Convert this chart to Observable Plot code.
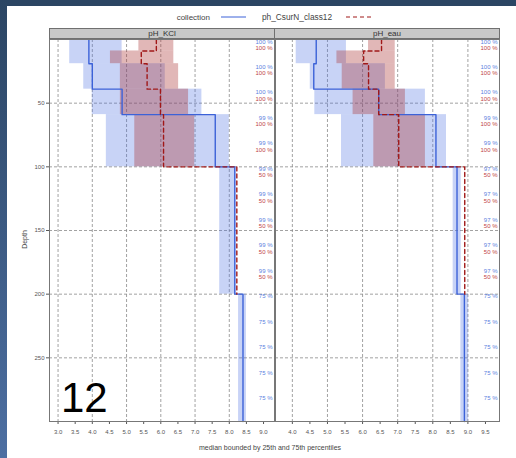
<!DOCTYPE html>
<html><head><meta charset="utf-8">
<script src="https://cdn.jsdelivr.net/npm/d3@7"></script>
<script src="https://cdn.jsdelivr.net/npm/@observablehq/plot@0.6"></script>
<style>
body{margin:0;width:516px;height:458px;position:relative;overflow:hidden;background:#fff;font-family:"Liberation Sans",Arial,sans-serif;}
.abs{position:absolute;}
.strip{position:absolute;top:28px;height:11px;background:#c8c8c8;border:1px solid #707070;box-sizing:border-box;font-size:8px;line-height:10px;text-align:center;color:#333;}
</style></head><body>
<div class="abs" style="left:0;top:0;width:516px;height:6px;background:#2b4563"></div>
<div class="abs" style="left:0;top:0;width:7px;height:458px;background:linear-gradient(#2b4563,#4d6fa2)"></div>
<div id="legend" class="abs" style="left:0;top:8px"></div>
<div id="p1" class="abs" style="left:0;top:0"></div>
<div id="p2" class="abs" style="left:274px;top:0"></div>
<div id="s1" class="strip" style="left:49px;width:226px"></div>
<div id="s2" class="strip" style="left:274px;width:226px"></div>
<div class="abs" style="left:14px;top:236px;width:20px;font-size:7px;color:#444;transform:rotate(-90deg);transform-origin:center;text-align:center">Depth</div>
<div class="abs" style="left:0;width:540px;top:444px;font-size:7px;color:#444;text-align:center">median bounded by 25th and 75th percentiles</div>
<div class="abs" style="left:61px;top:377px;font-size:42px;line-height:1;color:#000;font-family:'Liberation Sans',Arial,sans-serif">12</div>
<script>
const panels = ["pH_KCl", "pH_eau"];
const legendLabels = ["collection", "ph_CsurN_class12"];
// horizons (depth, cm)
const collTop = [0, 19, 39, 59, 100, 200];
const collBottom = [19, 39, 59, 100, 200, 300];
const classTop = [0, 9, 19, 39, 59, 100];
const classBottom = [9, 19, 39, 59, 100, 200];
// pH_KCl
const kclCollP25 = [3.34, 3.75, 4.00, 4.41, 7.72, 8.27];
const kclCollMed = [3.90, 4.00, 4.87, 7.59, 8.16, 8.40];
const kclCollP75 = [4.87, 6.13, 7.20, 8.00, 8.20, 8.50];
const kclClassP25 = [5.36, 4.53, 4.82, 4.82, 5.24, 8.22];
const kclClassMed = [5.87, 5.43, 5.60, 5.99, 6.08, 8.22];
const kclClassP75 = [6.38, 6.38, 6.52, 6.81, 6.99, 8.22];
// pH_eau
const eauCollP25 = [4.11, 4.51, 4.64, 5.40, 8.58, 8.80];
const eauCollMed = [4.68, 4.61, 6.46, 8.09, 8.69, 8.90];
const eauCollP75 = [5.54, 6.65, 7.79, 8.39, 8.81, 9.02];
const eauClassP25 = [6.17, 5.27, 5.42, 5.73, 6.32, 8.91];
const eauClassMed = [6.54, 6.03, 6.17, 6.46, 7.03, 8.91];
const eauClassP75 = [6.93, 6.93, 6.93, 7.22, 7.79, 8.91];
// contributing fraction labels
const labelDepth = [4, 24, 44, 64, 84, 104, 124, 144, 164, 184, 204, 224, 244, 264, 284];
const kclCollPct = ["100 %","100 %","100 %","99 %","99 %","99 %","99 %","99 %","99 %","99 %","75 %","75 %","75 %","75 %","75 %"];
const kclClassPct = ["100 %","100 %","100 %","100 %","100 %","50 %","50 %","50 %","50 %","50 %"];
const eauCollPct = ["100 %","100 %","100 %","99 %","99 %","97 %","97 %","97 %","97 %","97 %","75 %","75 %","75 %","75 %","75 %"];
const eauClassPct = ["100 %","100 %","100 %","100 %","100 %","50 %","50 %","50 %","50 %","50 %"];
// axes
const kclTicks = [3.0,3.5,4.0,4.5,5.0,5.5,6.0,6.5,7.0,7.5,8.0,8.5,9.0];
const eauTicks = [4.0,4.5,5.0,5.5,6.0,6.5,7.0,7.5,8.0,8.5,9.0,9.5];
const kclGrid = [3,4,5,6,7,8];
const eauGrid = [4,5,6,7,8,9];
const depthTicks = [50, 100, 150, 200, 250];

const BLUE = "#3c62d8", RED = "#a01818";

function table(tops, bottoms, p25, med, p75) {
  return tops.map((t, i) => ({top: t, bottom: bottoms[i], p25: p25[i], med: med[i], p75: p75[i]}));
}
function steps(rows) {
  const pts = [];
  rows.forEach(r => { pts.push({x: r.med, y: r.top}); pts.push({x: r.med, y: r.bottom}); });
  return pts;
}
function labels(pcts) { return pcts.map((p, i) => ({depth: labelDepth[i], pct: p})); }

function panel(cfg) {
  const coll = table(collTop, collBottom, cfg.cp25, cfg.cmed, cfg.cp75);
  const cls = table(classTop, classBottom, cfg.kp25, cfg.kmed, cfg.kp75);
  const marks = [
    Plot.ruleX(cfg.grid, {stroke: "#8a8a8a", strokeDasharray: "3,2", strokeWidth: 0.8}),
    Plot.ruleY(depthTicks, {stroke: "#8a8a8a", strokeDasharray: "3,2", strokeWidth: 0.8}),
    Plot.rect(coll, {x1: "p25", x2: "p75", y1: "top", y2: "bottom", fill: "#4a6ee0", fillOpacity: 0.3}),
    Plot.rect(cls, {x1: "p25", x2: "p75", y1: "top", y2: "bottom", fill: "#a83232", fillOpacity: 0.35}),
    Plot.line(steps(coll), {x: "x", y: "y", stroke: BLUE, strokeWidth: 1.4}),
    Plot.line(steps(cls), {x: "x", y: "y", stroke: RED, strokeWidth: 1.4, strokeDasharray: "4,3"}),
    Plot.text(labels(cfg.cpct), {y: "depth", text: "pct", frameAnchor: "right", textAnchor: "end", dx: -2, dy: -3, fill: "#5b7fe0", fontSize: 6}),
    Plot.text(labels(cfg.kpct), {y: "depth", text: "pct", frameAnchor: "right", textAnchor: "end", dx: -2, dy: 3.5, fill: "#c04545", fontSize: 6}),
    Plot.axisX({ticks: cfg.ticks, tickFormat: d3.format(".1f"), tickSize: 3, tickPadding: 5, label: null, fontSize: 6, stroke: "#555"}),
    Plot.frame({stroke: "#777"})
  ];
  if (cfg.yAxis) marks.push(Plot.axisY({ticks: depthTicks, tickSize: 3, tickPadding: 2, label: null, fontSize: 6}));
  return Plot.plot({
    width: cfg.width, height: 458,
    marginLeft: cfg.ml, marginRight: cfg.mr, marginTop: 39, marginBottom: 37,
    x: {domain: cfg.domain},
    y: {domain: [0, 300], reverse: true, axis: null},
    style: {fontFamily: "Liberation Sans, Arial, sans-serif", fontSize: "6px", color: "#555", background: "transparent"},
    marks
  });
}

document.getElementById("p1").append(panel({
  width: 276, ml: 49, mr: 2, domain: [2.75, 9.32], ticks: kclTicks, grid: kclGrid, yAxis: true,
  cp25: kclCollP25, cmed: kclCollMed, cp75: kclCollP75, kp25: kclClassP25, kmed: kclClassMed, kp75: kclClassP75,
  cpct: kclCollPct, kpct: kclClassPct
}));
document.getElementById("p2").append(panel({
  width: 242, ml: 1, mr: 17, domain: [3.52, 9.9], ticks: eauTicks, grid: eauGrid, yAxis: false,
  cp25: eauCollP25, cmed: eauCollMed, cp75: eauCollP75, kp25: eauClassP25, kmed: eauClassMed, kp75: eauClassP75,
  cpct: eauCollPct, kpct: eauClassPct
}));
document.getElementById("s1").textContent = panels[0];
document.getElementById("s2").textContent = panels[1];

// legend
const ns = "http://www.w3.org/2000/svg";
const lg = document.createElementNS(ns, "svg");
lg.setAttribute("width", 516); lg.setAttribute("height", 18);
lg.style.fontFamily = "Liberation Sans, Arial, sans-serif";
lg.innerHTML =
  `<text x="210" y="11.5" font-size="8" fill="#444" text-anchor="end">${legendLabels[0]}</text>` +
  `<line x1="221" x2="246" y1="9" y2="9" stroke="${BLUE}" stroke-width="1"/>` +
  `<text x="262" y="11.5" font-size="8.3" fill="#444">${legendLabels[1]}</text>` +
  `<line x1="346" x2="371" y1="9" y2="9" stroke="${RED}" stroke-width="1" stroke-dasharray="4,3"/>`;
document.getElementById("legend").append(lg);
</script>
</body></html>
